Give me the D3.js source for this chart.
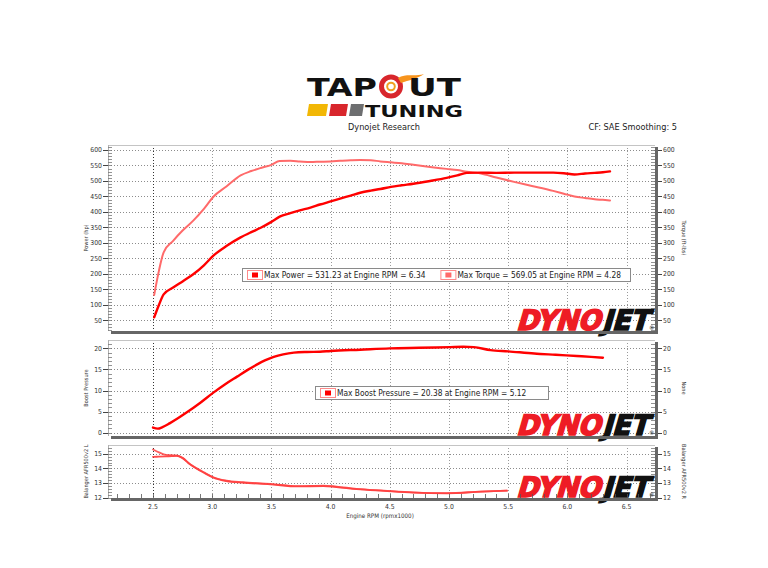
<!DOCTYPE html>
<html><head><meta charset="utf-8">
<script src="https://cdn.jsdelivr.net/npm/d3@7"></script>
<style>
html,body{margin:0;padding:0;background:#fff;}
svg{display:block;}
text{font-family:"DejaVu Sans Condensed","DejaVu Sans",sans-serif;font-stretch:condensed;}
</style></head><body>
<svg id="chart" width="768" height="568"></svg>
<script>
// ---------------- DATA ----------------
const rpmTop = [2.51,2.55,2.59,2.67,2.75,2.84,2.93,3.01,3.12,3.24,3.33,3.41,3.50,3.57,3.66,3.74,3.83,3.91,4.00,4.08,4.17,4.25,4.34,4.42,4.51,4.60,4.70,4.84,4.98,5.07,5.15,5.27,5.40,5.55,5.70,5.88,5.97,6.06,6.15,6.23,6.30,6.36];
const powerHp = [60,100,134,156,176,199,228,259,290,318,335,349,368,385,396,405,414,424,434,443,453,462,469,474,481,486,491,500,510,518,526,527,526,527,527,527,525,521,524,526,528,531];
const torqueFtLb = [132,210,270,307,340,372,410,449,482,518,532,542,552,564,565,563,561,562,563,565,567,568,567,563,560,557,552,545,539,535,530,524,511,497,484,468,459,450,445,441,439,437];

const rpmBoost = [2.50,2.54,2.58,2.64,2.71,2.78,2.90,3.01,3.11,3.21,3.30,3.38,3.45,3.52,3.60,3.69,3.80,3.91,4.00,4.25,4.50,4.75,5.01,5.12,5.21,5.35,5.50,5.72,5.90,6.08,6.20,6.30];
const boostPsi = [1.2,0.95,1.3,2.2,3.4,4.7,7.1,9.5,11.5,13.3,14.9,16.2,17.2,18.0,18.6,19.0,19.15,19.2,19.4,19.7,20.0,20.15,20.3,20.38,20.3,19.6,19.3,18.8,18.5,18.2,18.0,17.8];

const rpmAfr = [2.50,2.55,2.61,2.66,2.70,2.75,2.81,2.87,2.93,3.01,3.12,3.26,3.49,3.72,3.94,4.05,4.22,4.45,4.70,4.98,5.27,5.49];
const afrLeft = [15.29,15.10,14.92,14.90,14.88,14.70,14.30,14.00,13.73,13.39,13.16,13.05,12.94,12.78,12.82,12.75,12.60,12.48,12.36,12.30,12.41,12.48];
const afrRight = [14.79,14.80,14.82,14.84,14.85,14.72,14.30,13.97,13.70,13.37,13.13,13.02,12.91,12.76,12.79,12.72,12.58,12.46,12.34,12.29,12.40,12.47];

const xTicks = [2.5,3.0,3.5,4.0,4.5,5.0,5.5,6.0,6.5];
const xTickLabels = ["2.5","3.0","3.5","4.0","4.5","5.0","5.5","6.0","6.5"];
const topTicks = [50,100,150,200,250,300,350,400,450,500,550,600];
const boostTicks = [0,5,10,15,20];
const afrTicks = [12,13,14,15];
const legendTop = ["Max Power = 531.23 at Engine RPM = 6.34","Max Torque = 569.05 at Engine RPM = 4.28"];
const legendBoost = ["Max Boost Pressure = 20.38 at Engine RPM = 5.12"];
const titles = {power:"Power (hp)", torque:"Torque (ft-lbs)", boost:"Boost Pressure", none:"None", afrL:"Balanger AFR500v2 L", afrR:"Balanger AFR500v2 R", x:"Engine RPM (rpmx1000)"};

// ---------------- LAYOUT ----------------
const svg = d3.select("#chart");
const X0 = 108, X1 = 655;
const x = d3.scaleLinear().domain([2.12, 6.74]).range([X0, X1]);
const RED = "#ff0000", LRED = "#ff6a6a";

function drawPanel(p) {
  const g = svg.append("g");
  const y = d3.scaleLinear().domain(p.domain).range([p.y1, p.y0]);
  g.append("rect").attr("x", X0).attr("y", p.y0).attr("width", X1 - X0).attr("height", p.y1 - p.y0).attr("fill", "#fff");
  g.selectAll(".hg").data(p.ticks).enter().append("line")
    .attr("x1", X0).attr("x2", X1).attr("y1", d => Math.round(y(d)) + 0.5).attr("y2", d => Math.round(y(d)) + 0.5)
    .attr("stroke", "#8c8c8c").attr("stroke-width", 1).attr("stroke-dasharray", "1,2");
  g.selectAll(".vg").data(xTicks).enter().append("line")
    .attr("x1", d => Math.round(x(d)) + 0.5).attr("x2", d => Math.round(x(d)) + 0.5).attr("y1", p.y0).attr("y2", p.y1)
    .attr("stroke", d => d === 2.5 ? "#333" : "#9a9a9a").attr("stroke-width", 1).attr("stroke-dasharray", "1,2");
  g.append("line").attr("x1", X0).attr("x2", X1).attr("y1", p.y0 + 0.5).attr("y2", p.y0 + 0.5).attr("stroke", "#c4c4c4");
  g.append("line").attr("x1", X0 + 0.5).attr("x2", X0 + 0.5).attr("y1", p.y0).attr("y2", p.y1).attr("stroke", "#b0b0b0");
  const minors = d3.range(Math.ceil(p.domain[0] / p.minor) * p.minor, p.domain[1], p.minor);
  g.selectAll(".ml").data(minors).enter().append("line")
    .attr("x1", X0).attr("x2", X0 + 4).attr("y1", d => Math.round(y(d)) + 0.5).attr("y2", d => Math.round(y(d)) + 0.5)
    .attr("stroke", "#777").attr("stroke-width", 0.8);
  g.selectAll(".mr").data(minors).enter().append("line")
    .attr("x1", X1 - 4).attr("x2", X1).attr("y1", d => Math.round(y(d)) + 0.5).attr("y2", d => Math.round(y(d)) + 0.5)
    .attr("stroke", "#777").attr("stroke-width", 0.8);
  g.selectAll(".tl").data(p.ticks).enter().append("line")
    .attr("x1", X0 - 5).attr("x2", X0).attr("y1", d => Math.round(y(d)) + 0.5).attr("y2", d => Math.round(y(d)) + 0.5)
    .attr("stroke", "#444");
  g.selectAll(".tr").data(p.ticks).enter().append("line")
    .attr("x1", X1 + 3).attr("x2", X1 + 7).attr("y1", d => Math.round(y(d)) + 0.5).attr("y2", d => Math.round(y(d)) + 0.5)
    .attr("stroke", "#444");
  g.selectAll(".ll").data(p.ticks).enter().append("text")
    .attr("x", X0 - 6).attr("y", d => y(d)).attr("dy", "0.35em").attr("text-anchor", "end")
    .attr("font-size", 6.8).attr("fill", "#333").text(d => d);
  g.selectAll(".lr").data(p.ticks).enter().append("text")
    .attr("x", X1 + 8).attr("y", d => y(d)).attr("dy", "0.35em").attr("text-anchor", "start")
    .attr("font-size", 6.8).attr("fill", "#333").text(d => d);
  const cy = (p.y0 + p.y1) / 2;
  g.append("text").attr("transform", `translate(86,${cy}) rotate(-90)`).attr("text-anchor", "middle").attr("dy", "0.35em")
    .attr("font-size", 5.6).attr("fill", "#333").text(p.leftTitle);
  g.append("text").attr("transform", `translate(684,${cy}) rotate(90)`).attr("text-anchor", "middle").attr("dy", "0.35em")
    .attr("font-size", 5.6).attr("fill", "#333").text(p.rightTitle);
  p.y = y;
  p.g = g;
  return p;
}

function shadow(p) {
  p.g.append("rect").attr("x", X1).attr("y", p.y0 + 2).attr("width", 3).attr("height", p.y1 - p.y0 + 1).attr("fill", "#666");
  p.g.append("rect").attr("x", X0 + 3).attr("y", p.y1).attr("width", X1 - X0).attr("height", 3).attr("fill", "#666");
}

function drawLine(p, xs, ys, color, width, opacity) {
  const line = d3.line().x(d => x(d[0])).y(d => p.y(d[1])).curve(d3.curveMonotoneX);
  p.g.append("path").datum(d3.zip(xs, ys)).attr("d", line)
    .attr("fill", "none").attr("stroke", color).attr("stroke-width", width)
    .attr("stroke-linejoin", "round").attr("stroke-linecap", "round").attr("opacity", opacity || 1);
}

function dynojet(p) {
  const base = p.y1 - 1;
  const g = p.g.append("g");
  const mk = (tx, txt, fill, len) => g.append("text")
    .attr("transform", `translate(${tx},${base}) skewX(-16)`)
    .attr("x", 0).attr("y", 0).attr("font-family", "DejaVu Sans").attr("font-weight", "bold")
    .style("font-stretch", "normal").attr("font-size", 28).attr("fill", fill)
    .attr("stroke", fill).attr("stroke-width", 1.6).attr("stroke-linejoin", "miter")
    .attr("textLength", len).attr("lengthAdjust", "spacingAndGlyphs").text(txt);
  mk(516, "DYNO", "#ee1c25", 84);
  mk(602, "JET", "#111", 46);
  g.append("text").attr("x", 649).attr("y", base).attr("font-size", 6).attr("fill", "#111").text("®");
}

function legend(p, bx, by, bw, texts, colors) {
  const g = p.g.append("g");
  g.append("rect").attr("x", bx + 0.5).attr("y", by + 0.5).attr("width", bw).attr("height", 13)
    .attr("fill", "#fff").attr("stroke", "#8a8a8a");
  let cx = bx + 5;
  texts.forEach((t, i) => {
    g.append("rect").attr("x", cx + 0.5).attr("y", by + 2.5).attr("width", 15).attr("height", 9)
      .attr("fill", "#fff").attr("stroke", "#ff8a8a");
    g.append("rect").attr("x", cx + 5).attr("y", by + 4.5).attr("width", 6).attr("height", 5).attr("fill", colors[i]);
    const tx = g.append("text").attr("x", cx + 17).attr("y", by + 10).attr("font-size", 8.3).attr("fill", "#222").text(t);
    cx = cx + 17 + tx.node().getComputedTextLength() + 15;
  });
}

// ---------------- HEADER ----------------
const hdr = svg.append("g");
hdr.append("circle").attr("cx", 391).attr("cy", 86.5).attr("r", 9.5).attr("fill", "none").attr("stroke", "#d8262c").attr("stroke-width", 5);
hdr.append("circle").attr("cx", 391).attr("cy", 86.5).attr("r", 3.8).attr("fill", "none").attr("stroke", "#f0a020").attr("stroke-width", 2);
hdr.append("path").attr("d", "M398,78 C406,73 414,77 424,74 C417,79 409,80 401,83 Z").attr("fill", "#f7941d");
hdr.append("path").attr("d", "M309,104 L328,104 L326,116 L307,116 Z").attr("fill", "#f2b705");
hdr.append("path").attr("d", "M331,104 L348,104 L346,116 L329,116 Z").attr("fill", "#d8262c");
hdr.append("path").attr("d", "M351,104 L364,104 L362,116 L349,116 Z").attr("fill", "#6d6e70");
const logoFont = s => s.attr("font-family", "DejaVu Sans").attr("font-weight", "bold").style("font-stretch", "normal").attr("fill", "#111").attr("lengthAdjust", "spacingAndGlyphs");
logoFont(hdr.append("text").attr("x", 307).attr("y", 95.5).attr("font-size", 25).attr("textLength", 70)).text("TAP");
logoFont(hdr.append("text").attr("x", 408).attr("y", 95.5).attr("font-size", 25).attr("textLength", 53)).text("UT");
logoFont(hdr.append("text").attr("x", 365).attr("y", 117).attr("font-size", 16.5).attr("textLength", 98)).text("TUNING");

hdr.append("text").attr("x", 384).attr("y", 130).attr("text-anchor", "middle").attr("font-size", 9.1).attr("fill", "#222").text("Dynojet Research");
hdr.append("text").attr("x", 677).attr("y", 130).attr("text-anchor", "end").attr("font-size", 9.1).attr("fill", "#222").text("CF: SAE Smoothing: 5");

// ---------------- PANELS ----------------
const pTop = drawPanel({y0: 145, y1: 331, domain: [16, 616], ticks: topTicks, minor: 10, leftTitle: titles.power, rightTitle: titles.torque});
drawLine(pTop, rpmTop, torqueFtLb, LRED, 2);
drawLine(pTop, rpmTop, powerHp, RED, 2.4);
dynojet(pTop);
legend(pTop, 242, 268, 388, legendTop, [RED, LRED]);
shadow(pTop);

const pMid = drawPanel({y0: 340, y1: 436, domain: [-0.8, 22], ticks: boostTicks, minor: 1, leftTitle: titles.boost, rightTitle: titles.none});
drawLine(pMid, rpmBoost, boostPsi, RED, 2.4);
dynojet(pMid);
legend(pMid, 315, 386, 233, legendBoost, [RED]);
shadow(pMid);

const pBot = drawPanel({y0: 445, y1: 498, domain: [11.97, 15.6], ticks: afrTicks, minor: 0.2, leftTitle: titles.afrL, rightTitle: titles.afrR});
drawLine(pBot, rpmAfr, afrRight, "#ff2a2a", 1.8, 0.85);
drawLine(pBot, rpmAfr, afrLeft, "#ff4040", 1.8, 0.85);
dynojet(pBot);
const xMinor = d3.range(2.2, 6.75, 0.1);
pBot.g.selectAll(".xm").data(xMinor).enter().append("line")
  .attr("x1", d => Math.round(x(d)) + 0.5).attr("x2", d => Math.round(x(d)) + 0.5).attr("y1", 494).attr("y2", 498)
  .attr("stroke", "#555").attr("stroke-width", 0.8);
shadow(pBot);
pBot.g.selectAll(".xl").data(xTicks).enter().append("text")
  .attr("x", d => x(d)).attr("y", 509).attr("text-anchor", "middle").attr("font-size", 6.8).attr("fill", "#333")
  .text((d, i) => xTickLabels[i]);
pBot.g.append("text").attr("x", 380).attr("y", 518).attr("text-anchor", "middle").attr("font-size", 6.2).attr("fill", "#333").text(titles.x);
</script>
</body></html>
